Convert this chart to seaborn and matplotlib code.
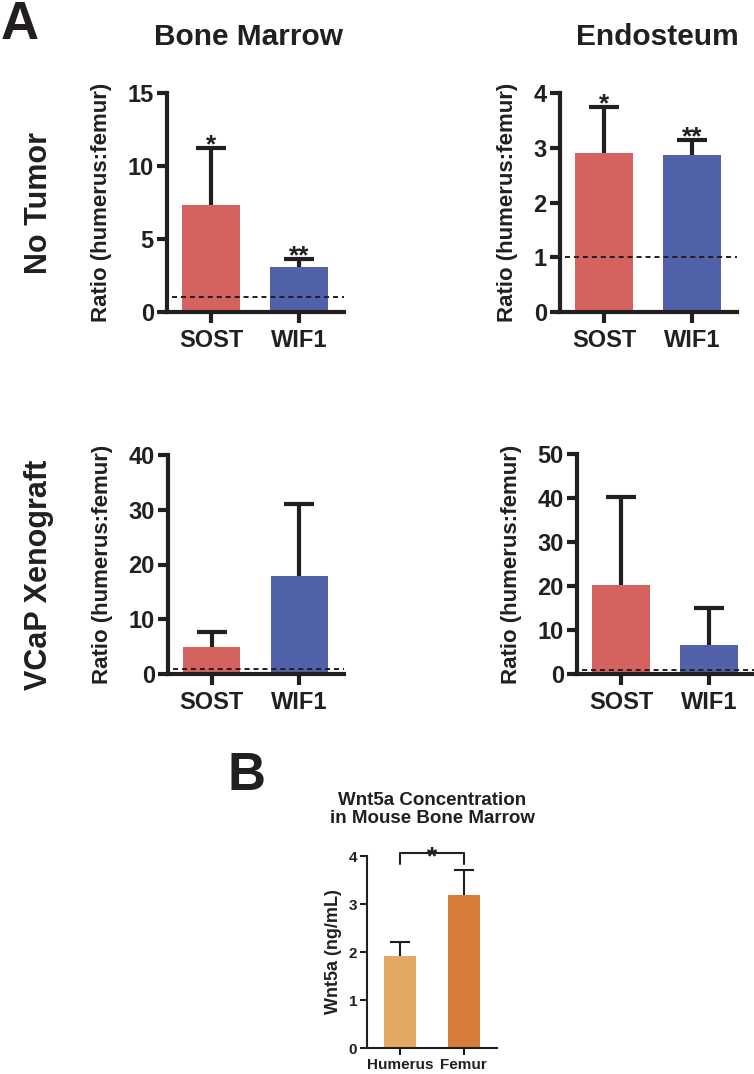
import numpy as np
import matplotlib
matplotlib.use("Agg")
import matplotlib.pyplot as plt
import seaborn as sns

# Data: means and upper error (top of bar to top of whisker)
genes = ["SOST", "WIF1"]

bm_notumor = [7.3, 3.1]
bm_notumor_err = [3.9, 0.5]
endo_notumor = [2.9, 2.87]
endo_notumor_err = [0.85, 0.27]
bm_vcap = [4.9, 17.9]
bm_vcap_err = [2.8, 13.1]
endo_vcap = [20.3, 6.5]
endo_vcap_err = [19.9, 8.6]

sig_notumor = ["*", "**"]

bones = ["Humerus", "Femur"]
wnt5a = [1.92, 3.19]
wnt5a_err = [0.28, 0.52]

gene_colors = ["#D4635F", "#5262AA"]
bone_colors = ["#E2A965", "#D77D3B"]
ink = "#231F20"

sns.set_theme(style="ticks")
plt.rcParams["font.family"] = ["Liberation Sans", "DejaVu Sans"]
plt.rcParams["font.weight"] = "bold"
plt.rcParams["text.color"] = ink
plt.rcParams["axes.labelcolor"] = ink
plt.rcParams["xtick.color"] = ink
plt.rcParams["ytick.color"] = ink

W, H = 754, 1074
fig = plt.figure(figsize=(W / 100, H / 100), dpi=100)


def px_axes(left, top, right, bottom):
    return fig.add_axes([left / W, 1 - bottom / H, (right - left) / W, (bottom - top) / H])


def upper_errorbar(ax, pos, vals, errs, lw, capsize):
    # whisker only above the bar, like the GraphPad original
    _, caps, _ = ax.errorbar(pos, vals, yerr=[np.zeros(len(vals)), errs], fmt="none",
                             ecolor=ink, elinewidth=lw, capsize=capsize, capthick=lw,
                             zorder=1)
    caps[0].set_visible(False)


def ratio_panel(ax, vals, errs, ymax, step, sig=None):
    sns.barplot(x=genes, y=vals, hue=genes, palette=gene_colors, width=0.65,
                saturation=1, legend=False, ax=ax, linewidth=0, zorder=2)
    pos = np.arange(len(genes))
    upper_errorbar(ax, pos, vals, errs, 3, 10.5)
    ax.axhline(1, xmin=0.03, xmax=1, color=ink, lw=1.4, ls=(0, (2.6, 2.0)), zorder=3)
    if sig is not None:
        for p, v, e, s in zip(pos, vals, errs, sig):
            ax.annotate(s, xy=(p, v + e), xytext=(0, -3), textcoords="offset points",
                        ha="center", va="baseline", fontsize=19, fontweight="bold",
                        annotation_clip=False)
    ax.set_xlim(-0.5, 1.51)
    ax.set_ylim(0, ymax)
    ax.set_yticks(np.arange(0, ymax + step / 2, step))
    ax.set_xlabel("")
    ax.set_ylabel("Ratio (humerus:femur)", fontsize=16, fontweight="bold", labelpad=11)
    sns.despine(ax=ax)
    for sp in ["left", "bottom"]:
        ax.spines[sp].set_linewidth(3)
        ax.spines[sp].set_color(ink)
        ax.spines[sp].set_capstyle("projecting")
    ax.tick_params(axis="y", length=7.5, width=3, labelsize=17, pad=2)
    ax.tick_params(axis="x", length=8, width=3, labelsize=17, pad=4)
    for lab in ax.get_xticklabels() + ax.get_yticklabels():
        lab.set_fontweight("bold")


ax1 = px_axes(167, 93, 344, 312)
ratio_panel(ax1, bm_notumor, bm_notumor_err, 15, 5, sig_notumor)
ax2 = px_axes(560, 93, 737, 312)
ratio_panel(ax2, endo_notumor, endo_notumor_err, 4, 1, sig_notumor)
ax3 = px_axes(168, 455, 344, 674)
ratio_panel(ax3, bm_vcap, bm_vcap_err, 40, 10)
ax4 = px_axes(577, 454, 754, 674)
ratio_panel(ax4, endo_vcap, endo_vcap_err, 50, 10)

# Panel B
axb = px_axes(367, 856, 497, 1048)
sns.barplot(x=bones, y=wnt5a, hue=bones, palette=bone_colors, width=0.51,
            saturation=1, legend=False, ax=axb, linewidth=0, zorder=2)
upper_errorbar(axb, np.arange(len(bones)), wnt5a, wnt5a_err, 1.5, 7)
axb.set_xlim(-0.52, 1.52)
axb.set_ylim(0, 4)
axb.set_yticks([0, 1, 2, 3, 4])
axb.set_xlabel("")
axb.set_ylabel("Wnt5a (ng/mL)", fontsize=13, fontweight="bold", labelpad=5)
axb.set_title("Wnt5a Concentration\nin Mouse Bone Marrow", fontsize=13.5,
              fontweight="bold", linespacing=1.05, pad=24)
sns.despine(ax=axb)
for sp in ["left", "bottom"]:
    axb.spines[sp].set_linewidth(1.5)
    axb.spines[sp].set_color(ink)
    axb.spines[sp].set_capstyle("projecting")
axb.tick_params(axis="both", length=5, width=1.5, labelsize=11, pad=2)
for lab in axb.get_xticklabels() + axb.get_yticklabels():
    lab.set_fontweight("bold")
# significance bracket
axb.plot([0, 0, 1, 1], [3.83, 4.06, 4.06, 3.83], color=ink, lw=1.5, clip_on=False)
axb.annotate("*", xy=(0.5, 4.06), xytext=(0, -8), textcoords="offset points",
             ha="center", va="baseline", fontsize=19, fontweight="bold",
             annotation_clip=False)

# Panel letters, column and row headings
fig.text(1 / W, 1 - 39 / H, "A", fontsize=38, fontweight="bold", ha="left", va="baseline")
fig.text(228 / W, 1 - 790 / H, "B", fontsize=38, fontweight="bold", ha="left", va="baseline")
fig.text(249 / W, 1 - 45 / H, "Bone Marrow", fontsize=21.5, fontweight="bold",
         ha="center", va="baseline")
fig.text(657 / W, 1 - 45 / H, "Endosteum", fontsize=21.5, fontweight="bold",
         ha="center", va="baseline")
fig.text(47 / W, 1 - 203 / H, "No Tumor", fontsize=22, fontweight="bold", rotation=90,
         rotation_mode="anchor", ha="center", va="baseline")
fig.text(47 / W, 1 - 575 / H, "VCaP Xenograft", fontsize=22, fontweight="bold",
         rotation=90, rotation_mode="anchor", ha="center", va="baseline")

fig.savefig("out.png", dpi=100, facecolor="white")
